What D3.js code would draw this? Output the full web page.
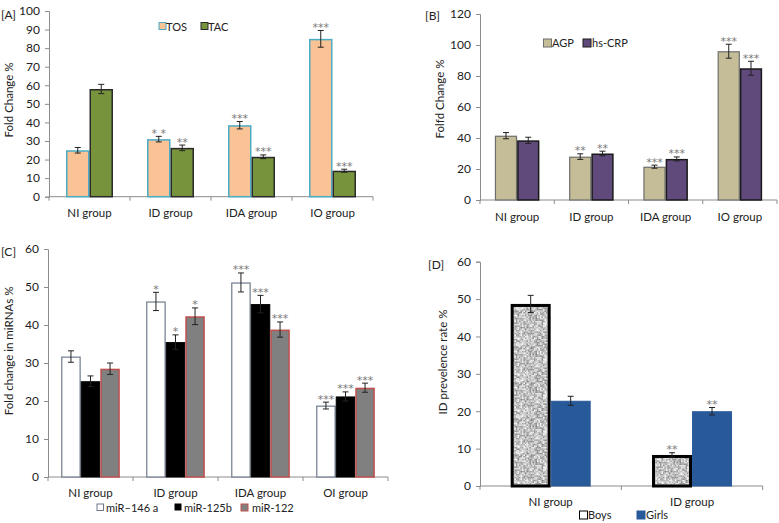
<!DOCTYPE html>
<html><head><meta charset="utf-8">
<script src="https://cdn.jsdelivr.net/npm/d3@7"></script>
<style>
body{margin:0;background:#fff;}
svg{display:block;font-family:Lato,"Open Sans",sans-serif;}
</style></head>
<body>
<svg id="c" width="779" height="523"></svg>
<script>
// ---------- DATA ----------
const groupsA = ["NI group","ID group","IDA group","IO group"];
const seriesA = ["TOS","TAC"];
const tosVals = [25, 31, 38.5, 85];
const tosErr  = [1.5, 1.5, 2, 4.5];
const tosSig  = ["", "* *", "***", "***"];
const tacVals = [58, 26.3, 21.5, 14];
const tacErr  = [2.5, 1.5, 1, 0.8];
const tacSig  = ["", "**", "***", "***"];
const ticksA = [0,10,20,30,40,50,60,70,80,90,100];

const groupsB = ["NI group","ID group","IDA group","IO group"];
const seriesB = ["AGP","hs-CRP"];
const agpVals = [41.5, 28, 21.5, 96];
const agpErr  = [2, 1.8, 1, 4.5];
const agpSig  = ["", "**", "***", "***"];
const crpVals = [38.5, 30, 26.5, 85];
const crpErr  = [2, 1.5, 1.3, 4.5];
const crpSig  = ["", "**", "***", "***"];
const ticksB = [0,20,40,60,80,100,120];

const groupsC = ["NI group","ID group","IDA group","OI group"];
const seriesC = ["miR\u2013146 a","miR-125b","miR-122"];
const mir146Vals = [31.7, 46.2, 51.2, 18.8];
const mir146Err  = [1.5, 2.4, 2.5, 0.9];
const mir146Sig  = ["", "*", "***", "***"];
const mir125Vals = [25.2, 35.5, 45.5, 21.2];
const mir125Err  = [1.4, 1.9, 2.3, 1.2];
const mir125Sig  = ["", "*", "***", "***"];
const mir122Vals = [28.5, 42.3, 38.8, 23.5];
const mir122Err  = [1.5, 2.2, 2, 1.2];
const mir122Sig  = ["", "*", "***", "***"];
const ticksC = [0,10,20,30,40,50,60];

const groupsD = ["NI group","ID group"];
const seriesD = ["Boys","Girls"];
const boysVals = [48.7, 8.3];
const boysErr  = [2.3, 0.6];
const boysSig  = ["", "**"];
const girlsVals = [22.8, 20];
const girlsErr  = [1.2, 1];
const girlsSig  = ["", "**"];
const ticksD = [0,10,20,30,40,50,60];

// ---------- DRAW ----------
const svg = d3.select("#c");
const defs = svg.append("defs");

// granite texture pattern for Boys
(function(){
  const p = defs.append("pattern").attr("id","granite").attr("patternUnits","userSpaceOnUse")
    .attr("width",36).attr("height",36);
  p.append("rect").attr("width",36).attr("height",36).attr("fill","#c8c8c8");
  let s = 12345;
  const rnd = () => { s = (s*1103515245 + 12345) & 0x7fffffff; return s/0x7fffffff; };
  for (let y=0; y<36; y+=1.5) for (let x=0; x<36; x+=1.5) {
    const r = rnd();
    const g = Math.round(135 + r*115);
    p.append("rect").attr("x",x).attr("y",y).attr("width",1.5).attr("height",1.5)
      .attr("fill",`rgb(${g},${g},${g})`);
  }
})();

function panel(cfg){
  const g = svg.append("g");
  const y = d3.scaleLinear().domain([0, cfg.ymax]).range([cfg.y0, cfg.ytop]);
  const x = d3.scaleBand().domain(cfg.groups).range([cfg.x0, cfg.x1]).padding(0);
  const bw = x.bandwidth()*cfg.barFrac;
  const xs = d3.scaleBand().domain(cfg.series.map(s=>s.name))
    .range([-bw*cfg.series.length/2, bw*cfg.series.length/2]);

  // y axis
  const ya = d3.axisLeft(y).tickValues(cfg.ticks).tickSize(4).tickPadding(5);
  const yg = g.append("g").attr("transform",`translate(${cfg.x0},0)`).call(ya);
  yg.select(".domain").attr("stroke","#8c8c8c");
  yg.selectAll(".tick line").attr("stroke","#8c8c8c");
  yg.selectAll(".tick text").attr("font-size",12).attr("fill","#222").attr("font-family","Lato, sans-serif");

  // x axis line and ticks at band boundaries
  g.append("line").attr("x1",cfg.x0).attr("x2",cfg.x1).attr("y1",cfg.y0).attr("y2",cfg.y0).attr("stroke","#8c8c8c");
  const bounds = cfg.groups.map(d=>x(d)).concat([cfg.x1]);
  g.selectAll(".xt").data(bounds).join("line")
    .attr("x1",d=>d).attr("x2",d=>d).attr("y1",cfg.y0).attr("y2",cfg.y0+4).attr("stroke","#8c8c8c");
  g.selectAll(".xl").data(cfg.groups).join("text")
    .attr("x",d=>x(d)+x.bandwidth()/2).attr("y",cfg.labelY)
    .attr("text-anchor","middle").attr("font-size",11.5).attr("fill","#222").text(d=>d);

  cfg.series.forEach(s=>{
    const sg = g.append("g");
    const data = cfg.groups.map((grp,i)=>({grp, v:s.vals[i], e:s.err[i], sig:s.sig[i]}));
    sg.selectAll("rect").data(data).join("rect")
      .attr("x",d=>x(d.grp)+x.bandwidth()/2+xs(s.name)+s.sw/2)
      .attr("y",d=>y(d.v)+s.sw/2)
      .attr("width",xs.bandwidth()-s.sw)
      .attr("height",d=>y(0)-y(d.v)-s.sw/2)
      .attr("fill",s.fill).attr("stroke",s.stroke).attr("stroke-width",s.sw);
    // error bars
    const cx = d=>x(d.grp)+x.bandwidth()/2+xs(s.name)+xs.bandwidth()/2;
    sg.selectAll(".eb").data(data).join("path")
      .attr("d",d=>`M${cx(d)},${y(d.v+d.e)}V${y(d.v-d.e)}M${cx(d)-3},${y(d.v+d.e)}H${cx(d)+3}M${cx(d)-3},${y(d.v-d.e)}H${cx(d)+3}`)
      .attr("stroke","#222").attr("stroke-width",1).attr("fill","none");
    sg.selectAll(".sig").data(data).join("text")
      .attr("x",cx).attr("y",d=>y(d.v+d.e)+0.5)
      .attr("text-anchor","middle").attr("font-size",11).attr("fill","#7a7a7a")
      .attr("font-family","DejaVu Sans, sans-serif").text(d=>d.sig);
  });

  // y label
  g.append("text").attr("transform",`translate(${cfg.ylabX},${cfg.ylabY}) rotate(-90)`)
    .attr("text-anchor","middle").attr("font-size",11.5).attr("fill","#222").text(cfg.ylabel);
  // panel letter
  g.append("text").attr("x",cfg.tagX).attr("y",cfg.tagY).attr("font-size",12).attr("fill","#222").text(cfg.tag);
  // legend
  cfg.legend.forEach((L,i)=>{
    const s = cfg.series[i];
    g.append("rect").attr("x",L.bx).attr("y",cfg.legY-4).attr("width",L.bs).attr("height",L.bs)
      .attr("fill",s.lfill||s.fill).attr("stroke",s.lstroke||s.stroke).attr("stroke-width",1);
    g.append("text").attr("x",L.tx).attr("y",cfg.legY+4).attr("font-size",11).attr("fill","#222").text(s.name);
  });
}

panel({
  groups:groupsA, ymax:100, ticks:ticksA, x0:49, x1:373, y0:196.7, ytop:11, barFrac:0.29, labelY:217,
  series:[
    {name:seriesA[0], vals:tosVals, err:tosErr, sig:tosSig, fill:"#fac396", stroke:"#4bacc6", sw:1.5},
    {name:seriesA[1], vals:tacVals, err:tacErr, sig:tacSig, fill:"#77933c", stroke:"#2a2a2a", sw:1.5}
  ],
  ylabel:"Fold Change %", ylabX:13, ylabY:100, tag:"[A]", tagX:1, tagY:19,
  legY:26.5, legend:[{bx:159,bs:7,tx:166},{bx:201,bs:7,tx:208}]
});

panel({
  groups:groupsB, ymax:120, ticks:ticksB, x0:480, x1:777, y0:200, ytop:14, barFrac:0.30, labelY:221,
  series:[
    {name:seriesB[0], vals:agpVals, err:agpErr, sig:agpSig, fill:"#c4bd97", stroke:"#6e6e6e", sw:1.2},
    {name:seriesB[1], vals:crpVals, err:crpErr, sig:crpSig, fill:"#604a7b", stroke:"#1a1a1a", sw:1.5}
  ],
  ylabel:"Folfd Change %", ylabX:444, ylabY:99, tag:"[B]", tagX:425, tagY:20,
  legY:43, legend:[{bx:543.5,bs:8,tx:552},{bx:583,bs:8,tx:592}]
});

panel({
  groups:groupsC, ymax:60, ticks:ticksC, x0:48, x1:388, y0:477, ytop:249, barFrac:0.23, labelY:497,
  series:[
    {name:seriesC[0], vals:mir146Vals, err:mir146Err, sig:mir146Sig, fill:"#ffffff", stroke:"#6f7b8c", sw:1.2},
    {name:seriesC[1], vals:mir125Vals, err:mir125Err, sig:mir125Sig, fill:"#000000", stroke:"#000000", sw:1},
    {name:seriesC[2], vals:mir122Vals, err:mir122Err, sig:mir122Sig, fill:"#808080", stroke:"#c0504d", sw:1.5}
  ],
  ylabel:"Fold change in miRNAs %", ylabX:13, ylabY:351, tag:"[C]", tagX:1, tagY:256,
  legY:508, legend:[{bx:97,bs:6.5,tx:106},{bx:175,bs:6,tx:184},{bx:241,bs:7,tx:252}]
});

panel({
  groups:groupsD, ymax:60, ticks:ticksD, x0:480, x1:762.7, y0:486, ytop:261.7, barFrac:0.283, labelY:506,
  series:[
    {name:seriesD[0], vals:boysVals, err:boysErr, sig:boysSig, fill:"url(#granite)", stroke:"#000000", sw:3, lfill:"#ffffff", lstroke:"#000"},
    {name:seriesD[1], vals:girlsVals, err:girlsErr, sig:girlsSig, fill:"#285a9a", stroke:"#285a9a", sw:1}
  ],
  ylabel:"ID prevelence rate %", ylabX:447, ylabY:362, tag:"[D]", tagX:428, tagY:269,
  legY:515, legend:[{bx:579.5,bs:8,tx:588},{bx:637,bs:8,tx:646}]
});
</script>
</body></html>
